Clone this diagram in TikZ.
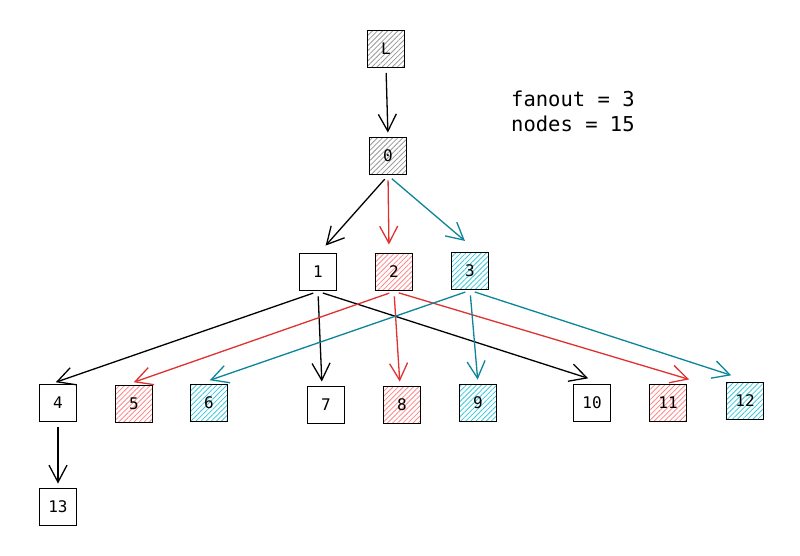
\documentclass[tikz,border=0pt]{standalone}
\usepackage{fontspec}
\setmonofont{DejaVu Sans Mono}
\usetikzlibrary{arrows.meta,patterns.meta,calc}
\definecolor{redS}{HTML}{E03131}
\definecolor{redF}{HTML}{FF8787}
\definecolor{tealS}{HTML}{0C8599}
\definecolor{tealF}{HTML}{3BC9DB}
\definecolor{grayF}{HTML}{9A9A9A}
\tikzset{
  box/.style={draw=black, line width=1.9pt, minimum size=37pt, inner sep=0pt,
    font=\ttfamily\fontsize{16}{16}\selectfont},
  hatchgray/.style={pattern={Lines[angle=45,distance=3.6pt,line width=0.8pt]}, pattern color=grayF},
  hatchred/.style={pattern={Lines[angle=45,distance=3.6pt,line width=0.8pt]}, pattern color=redF},
  hatchteal/.style={pattern={Lines[angle=45,distance=3.6pt,line width=0.8pt]}, pattern color=tealF},
  arr/.style={line width=1.3pt, -{Straight Barb[length=17pt,width=18pt,line width=1.3pt]},
    shorten <=5pt, shorten >=4pt},
  redarr/.style={arr, draw=redS},
  tealarr/.style={arr, draw=tealS},
  infotext/.style={font=\ttfamily\fontsize{20.5}{20.5}\selectfont, anchor=base west, inner sep=0pt}
}
\begin{document}
\begin{tikzpicture}[x=1pt,y=-1pt]
\useasboundingbox (0,0) rectangle (800,556);
\fill[white] (0,0) rectangle (800,556);
\node[box,hatchgray] (nL) at (386,49) {L};
\node[box,hatchgray] (n0) at (388,156) {0};
\node[box] (n1) at (318,272) {1};
\node[box,hatchred] (n2) at (394,272) {2};
\node[box,hatchteal] (n3) at (470,271) {3};
\node[box] (n4) at (58,403) {4};
\node[box,hatchred] (n5) at (134,404) {5};
\node[box,hatchteal] (n6) at (209,403) {6};
\node[box] (n7) at (326,405) {7};
\node[box,hatchred] (n8) at (402,405) {8};
\node[box,hatchteal] (n9) at (478,403) {9};
\node[box] (n10) at (592,403) {10};
\node[box,hatchred] (n11) at (668,403) {11};
\node[box,hatchteal] (n12) at (745,401) {12};
\node[box] (n13) at (58,507) {13};
\node[infotext] (t1) at (511,107) {fanout = 3};
\node[infotext] (t2) at (511,132) {nodes = 15};
% arrows
\draw[arr] (nL.south) -- (n0.north);
\draw[arr] (n0.south) -- ($(n1.north)+(5,-4)$);
\draw[redarr] (n0.south) -- ($(n2.north)+(-5,-4)$);
\draw[tealarr] (n0.south) -- ($(n3.north)+(-2,-8)$);
\draw[arr] (n1.south) -- ($(n4.north)+(-6,0)$);
\draw[arr] (n1.south) -- ($(n7.north)+(-4,0)$);
\draw[arr] (n1.south) -- ($(n10.north)+(0,-4)$);
\draw[redarr] (n2.south) -- ($(n5.north)+(-4,-1)$);
\draw[redarr] (n2.south) -- ($(n8.north)+(-2,0)$);
\draw[redarr] (n2.south) -- ($(n11.north)+(25,-3)$);
\draw[tealarr] (n3.south) -- ($(n6.north)+(-3,-2)$);
\draw[tealarr] (n3.south) -- ($(n9.north)+(0,0)$);
\draw[tealarr] (n3.south) -- ($(n12.north)+(-10,-5)$);
\draw[arr] (n4.south) -- (n13.north);
\end{tikzpicture}
\end{document}
